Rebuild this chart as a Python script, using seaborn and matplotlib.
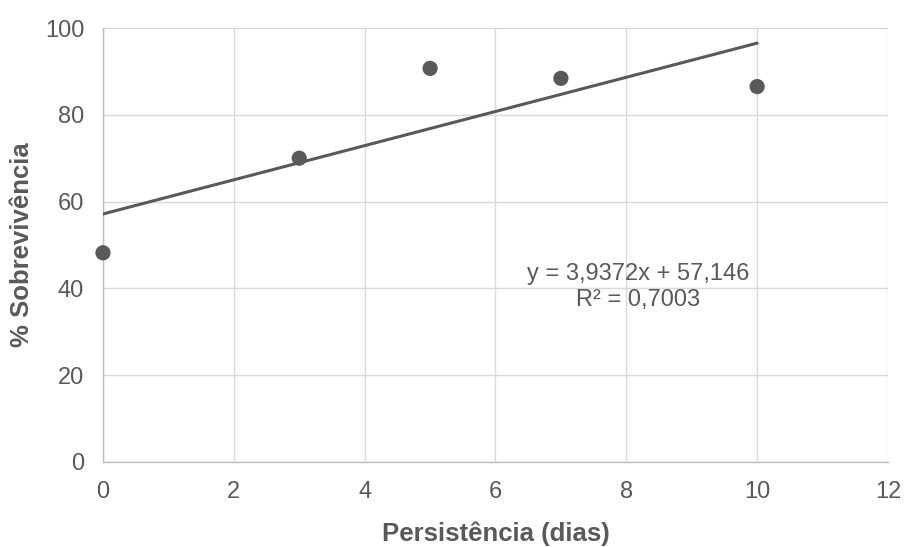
import matplotlib
matplotlib.use("Agg")
import matplotlib.pyplot as plt
import seaborn as sns
import numpy as np
import pandas as pd

# Data
persistencia = [0, 3, 5, 7, 10]
sobrevivencia = [48.2, 70.0, 90.7, 88.4, 86.5]
trend_slope = 3.9372
trend_intercept = 57.146
trend_range = [0, 10]
eq_label = "y = 3,9372x + 57,146"
r2_label = "R² = 0,7003"
x_ticks = [0, 2, 4, 6, 8, 10, 12]
y_ticks = [0, 20, 40, 60, 80, 100]

sns.set_theme(style="white")
plt.rcParams['font.family'] = ['Liberation Sans', 'DejaVu Sans']

TXT = "#595959"
GRID = "#d9d9d9"

fig = plt.figure(figsize=(9.05, 5.47), dpi=100)
ax = fig.add_axes([0.1138, 0.1554, 0.9812 - 0.1138, 0.9488 - 0.1554])

df = pd.DataFrame({"x": persistencia, "y": sobrevivencia})
tx = np.array(trend_range, dtype=float)
tdf = pd.DataFrame({"x": tx, "y": trend_slope * tx + trend_intercept})

sns.lineplot(data=tdf, x="x", y="y", ax=ax, color=TXT, linewidth=2.2, zorder=3)
sns.scatterplot(data=df, x="x", y="y", ax=ax, color=TXT, s=120, edgecolor="none",
                zorder=4, clip_on=False)

ax.set_xlim(0, 12)
ax.set_ylim(0, 100)
ax.set_xticks(x_ticks)
ax.set_yticks(y_ticks)
ax.grid(True, color=GRID, linewidth=1.0)
ax.set_axisbelow(True)
for s in ["top", "right"]:
    ax.spines[s].set_visible(False)
for s in ["left", "bottom"]:
    ax.spines[s].set_color("#bfbfbf")
    ax.spines[s].set_linewidth(1.0)
ax.tick_params(axis="both", length=0, labelsize=17, colors=TXT)
ax.tick_params(axis="x", pad=14)
ax.tick_params(axis="y", pad=13.5)

ax.set_xlabel("Persistência (dias)", fontsize=18.5, fontweight="bold", color=TXT, labelpad=13)
ax.set_ylabel("% Sobrevivência", fontsize=18.5, fontweight="bold", color=TXT, labelpad=8)

ax.text(8.18, 43.3, eq_label, ha="center", va="center", fontsize=17, color=TXT)
ax.text(8.18, 37.3, r2_label, ha="center", va="center", fontsize=17, color=TXT)

fig.savefig("out.png", dpi=100)
